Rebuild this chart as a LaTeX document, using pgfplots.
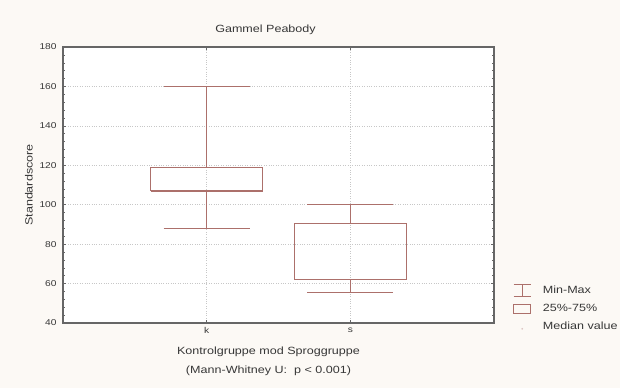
\documentclass[border=0pt]{standalone}
\usepackage{fontspec}
\setmainfont{Liberation Sans}[FakeStretch=1.2]
\usepackage{pgfplots}
\pgfplotsset{compat=1.18}
\definecolor{bgc}{RGB}{252,249,245}
\definecolor{boxc}{RGB}{172,112,107}
\definecolor{txt}{RGB}{55,55,55}
\begin{document}
\begin{tikzpicture}
\fill[bgc] (0bp,0bp) rectangle (620bp,388bp);
\useasboundingbox (0bp,0bp) rectangle (620bp,388bp);
\begin{axis}[
  at={(63bp,65bp)}, anchor=south west,
  scale only axis, width=431bp, height=276bp,
  axis background/.style={fill=white},
  axis line style={draw=black!60, line width=1.3bp},
  xmin=0, xmax=3, ymin=40, ymax=180,
  xtick={1,2}, xticklabels={k,s},
  ytick={40,60,80,100,120,140,160,180},
  minor y tick num=4,
  tick style={black!60, line width=0.5bp},
  major tick length=3bp, minor tick length=2bp,
  grid=major,
  major grid style={black!22, dotted, line width=0.7bp},
  /pgf/number format/assume math mode=true,
  tick label style={font=\fontsize{8.5}{10}\selectfont, text=txt},
  yticklabel style={xshift=-3bp},
  xticklabel style={yshift=-1bp},
  title={Gammel Peabody},
  title style={font=\fontsize{10.5}{12}\selectfont, text=txt, xshift=-13bp, yshift=3bp},
  ylabel={Standardscore},
  ylabel style={font=\fontsize{10.5}{12}\selectfont, text=txt},
  xlabel={Kontrolgruppe mod Sproggruppe\\(Mann-Whitney U:\ \ p < 0.001)},
  xlabel style={font=\fontsize{10.5}{19}\selectfont, text=txt, align=center, xshift=-10bp, yshift=-6bp},
  legend style={at={(1.037,0.15)}, anchor=north west, draw=none, fill=none,
    font=\fontsize{10.5}{12}\selectfont, text=txt, row sep=5bp},
  legend cell align=left,
]
% group k: min 88, q1 107, q3 119, max 160
\addplot[forget plot, boxc, line width=1.2bp] coordinates {(0.61,107) (1.39,107) (1.39,119) (0.61,119) (0.61,107)};
\addplot[forget plot, boxc, line width=1.2bp] coordinates {(1,119) (1,160)};
\addplot[forget plot, boxc, line width=1.2bp] coordinates {(0.7,160) (1.3,160)};
\addplot[forget plot, boxc, line width=1.2bp] coordinates {(1,107) (1,88)};
\addplot[forget plot, boxc, line width=1.2bp] coordinates {(0.7,88) (1.3,88)};
% group s: min 55.5, q1 62, q3 90.5, max 100
\addplot[forget plot, boxc, line width=1.2bp] coordinates {(1.61,62) (2.39,62) (2.39,90.5) (1.61,90.5) (1.61,62)};
\addplot[forget plot, boxc, line width=1.2bp] coordinates {(2,90.5) (2,100)};
\addplot[forget plot, boxc, line width=1.2bp] coordinates {(1.7,100) (2.3,100)};
\addplot[forget plot, boxc, line width=1.2bp] coordinates {(2,62) (2,55.5)};
\addplot[forget plot, boxc, line width=1.2bp] coordinates {(1.7,55.5) (2.3,55.5)};
\addlegendimage{legend image code/.code={
  \draw[boxc, line width=1.2bp] (-0.1cm,-0.22cm) -- (0.5cm,-0.22cm) (-0.1cm,0.22cm) -- (0.5cm,0.22cm) (0.2cm,-0.22cm) -- (0.2cm,0.22cm);
  \path (-0.1cm,0cm) (0.85cm,0cm);}}
\addlegendentry{Min-Max}
\addlegendimage{legend image code/.code={
  \draw[boxc, line width=1.2bp] (-0.1cm,-0.15cm) rectangle (0.5cm,0.15cm);
  \path (-0.1cm,0cm) (0.85cm,0cm);}}
\addlegendentry{25\%-75\%}
\addlegendimage{legend image code/.code={
  \fill[boxc!40] (0.2cm,-0.07cm) circle (0.025cm);
  \path (-0.1cm,0cm) (0.85cm,0cm);}}
\addlegendentry{Median value}
\end{axis}
\end{tikzpicture}
\end{document}
